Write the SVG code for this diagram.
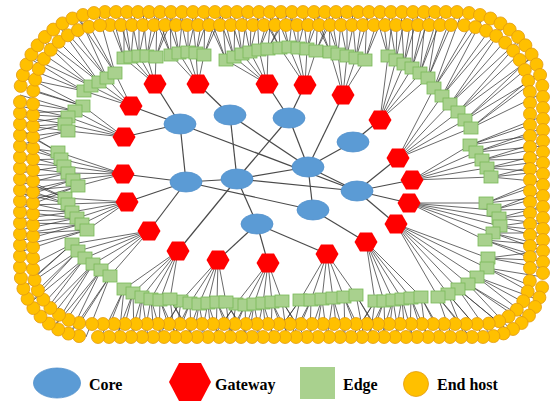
<svg xmlns="http://www.w3.org/2000/svg" width="553" height="403" viewBox="0 0 553 403">
<style>
.fan{fill:none;stroke:#383838;stroke-width:0.75}
.lk{stroke:#4a4a4a;stroke-width:1.2}
.core{fill:#5B9BD5;stroke:#5290CB;stroke-width:0.8}
.gw{fill:#FF0000}
.edge{fill:#A9D18E;stroke:#79B957;stroke-width:0.8}
.host{fill:#FFC000;stroke:#E29B10;stroke-width:0.8}
.lbl{font-family:"Liberation Serif","Times New Roman",serif;font-weight:bold;font-size:16px;fill:#000}
</style>
<defs>
<circle id="H" class="host" r="6.5"/>
<rect id="E" class="edge" x="-7" y="-6" width="14" height="12"/>
<polygon id="G" class="gw" points="-11.5,0 -6,-9.5 6,-9.5 11.5,0 6,9.5 -6,9.5"/>
<ellipse id="C" class="core" rx="16" ry="10"/>
</defs>
<rect width="553" height="403" fill="#fff"/>
<g id="connectors">
<g class="fan">
<path d="M124 137L83 106M124 137L75 111M124 137L68 117M124 137L65 124M124 137L68 131M23 75L83 106L21 86M83 106L33 91M20 95L75 111L20 113M75 111L33 104M20 106L68 117L20 124M68 117L33 115M20 116L65 124L20 135M65 124L33 126M20 125L68 131L20 145M68 131L33 136"/>
<path d="M131 106L84 91M131 106L91 86M131 106L99 82M131 106L107 78M131 106L115 73M22 78L84 91L29 58M84 91L37 72M30 57L91 86L42 40M91 86L46 56M43 39L99 82L59 26M99 82L59 42M60 25L107 78L79 16M107 78L75 32M77 17L115 73L98 12M115 73L90 27"/>
<path d="M155 84L124 58M155 84L131 57M155 84L139 56M155 84L147 56M155 84L156 57M106 12L124 58L124 12M124 58L115 25M117 12L131 57L135 12M131 57L126 25M130 12L139 56L148 12M139 56L139 25M143 12L147 56L161 12M147 56L152 25M157 12L156 57L175 12M156 57L166 25"/>
<path d="M198 84L171 55M198 84L179 53M198 84L188 52M198 84L196 53M198 84L204 55M152 12L171 55L170 12M171 55L161 25M165 12L179 53L183 12M179 53L174 25M179 12L188 52L197 12M188 52L188 25M192 12L196 53L210 12M196 53L201 25M205 12L204 55L223 12M204 55L214 25"/>
<path d="M267 84L226 60M267 84L234 57M267 84L242 54M267 84L250 52M267 84L259 50M267 84L268 49M204 12L226 60L222 12M226 60L213 25M217 12L234 57L235 12M234 57L226 25M229 12L242 54L247 12M242 54L238 25M242 12L250 52L260 12M250 52L251 25M257 12L259 50L275 12M259 50L266 25M271 12L268 49L289 12M268 49L280 25"/>
<path d="M305 85L280 48M305 85L289 47M305 85L298 48M305 85L307 49M305 85L316 51M260 12L280 48L278 12M280 48L269 25M275 12L289 47L293 12M289 47L284 25M289 12L298 48L307 12M298 48L298 25M303 12L307 49L321 12M307 49L312 25M318 12L316 51L336 12M316 51L327 25"/>
<path d="M343 95L330 52M343 95L338 54M343 95L347 56M343 95L356 58M343 95L365 60M311 12L330 52L329 12M330 52L320 25M324 12L338 54L342 12M338 54L333 25M338 12L347 56L356 12M347 56L347 25M352 12L356 58L370 12M356 58L361 25M367 12L365 60L385 12M365 60L376 25"/>
<path d="M380 120L388 56M380 120L396 60M380 120L404 64M380 120L412 68M380 120L420 73M380 120L428 78M375 12L388 56L393 12M388 56L384 25M388 12L396 60L406 12M396 60L397 25M401 12L404 64L419 12M404 64L410 25M413 12L412 68L431 12M412 68L422 25M426 12L420 73L444 12M420 73L435 25M439 12L428 78L457 12M428 78L448 25"/>
<path d="M398 158L434 88M398 158L442 96M398 158L450 104M398 158L458 112M398 158L465 120M398 158L471 128M462 12L434 88L483 16M434 88L470 26M484 16L442 96L503 25M442 96L488 32M504 26L450 104L520 39M450 104L504 42M521 40L458 112L533 57M458 112L517 56M532 56L465 120L540 75M465 120L525 70M539 72L471 128L543 93M471 128L529 85"/>
<path d="M412 180L470 145M412 180L476 152M412 180L482 160M412 180L487 168M412 180L491 177M543 116L470 145L543 134M470 145L530 125M543 128L476 152L543 146M476 152L530 137M543 141L482 160L543 159M482 160L530 150M543 154L487 168L543 172M487 168L530 163M543 164L491 177L543 182M491 177L530 173"/>
<path d="M409 203L486 203M409 203L494 210M409 203L499 218M409 203L500 226M409 203L493 233M409 203L485 240M543 179L486 203L543 197M486 203L530 188M543 191L494 210L543 209M494 210L530 200M543 206L499 218L543 224M499 218L530 215M543 220L500 226L543 238M500 226L530 229M543 233L493 233L543 251M493 233L530 242M543 245L485 240L543 263M485 240L530 254"/>
<path d="M396 224L488 258M396 224L487 268M396 224L477 277M396 224L468 284M396 224L458 289M396 224L448 294M396 224L438 297M543 251L488 258L543 268M488 258L530 260M543 277L487 268L539 297M487 268L529 285M539 300L477 277L528 317M477 277L523 302M526 319L468 284L511 330M468 284L512 314M509 331L458 289L491 336M458 289L498 322M485 337L448 294L465 337M448 294L474 324M470 337L438 297L452 337M438 297L461 324"/>
<path d="M366 242L375 301M366 242L384 301M366 242L393 300M366 242L402 299M366 242L411 298M366 242L421 297M352 337L375 301L370 337M375 301L361 324M367 337L384 301L385 337M384 301L376 324M381 337L393 300L399 337M393 300L390 324M395 337L402 299L413 337M402 299L404 324M410 337L411 298L428 337M411 298L419 324M426 337L421 297L444 337M421 297L435 324"/>
<path d="M327 254L300 300M327 254L311 300M327 254L322 299M327 254L333 298M327 254L344 297M327 254L356 295M274 337L300 300L292 337M300 300L283 324M292 337L311 300L310 337M311 300L301 324M309 337L322 299L327 337M322 299L318 324M327 337L333 298L345 337M333 298L336 324M345 337L344 297L363 337M344 297L354 324M364 337L356 295L382 337M356 295L373 324"/>
<path d="M268 263L236 304M268 263L245 305M268 263L254 304M268 263L263 303M268 263L272 302M268 263L282 301M213 337L236 304L231 337M236 304L222 324M228 337L245 305L246 337M245 305L237 324M242 337L254 304L260 337M254 304L251 324M256 337L263 303L274 337M263 303L265 324M271 337L272 302L289 337M272 302L280 324M287 337L282 301L305 337M282 301L296 324"/>
<path d="M218 260L181 301M218 260L190 303M218 260L199 304M218 260L208 303M218 260L217 302M218 260L226 302M158 337L181 301L176 337M181 301L167 324M173 337L190 303L191 337M190 303L182 324M187 337L199 304L205 337M199 304L196 324M201 337L208 303L219 337M208 303L210 324M216 337L217 302L234 337M217 302L225 324M230 337L226 302L248 337M226 302L239 324"/>
<path d="M178 251L124 289M178 251L133 293M178 251L142 297M178 251L151 299M178 251L160 300M178 251L170 299M101 337L124 289L119 337M124 289L110 324M116 337L133 293L134 337M133 293L125 324M130 337L142 297L148 337M142 297L139 324M144 337L151 299L162 337M151 299L153 324M159 337L160 300L177 337M160 300L168 324M175 337L170 299L193 337M170 299L184 324"/>
<path d="M149 231L72 244M149 231L78 251M149 231L85 258M149 231L93 264M149 231L101 270M149 231L110 276M20 271L72 244L23 288M72 244L34 277M23 288L78 251L30 303M78 251L38 290M30 303L85 258L41 317M85 258L45 302M41 317L93 264L54 327M93 264L55 312M54 327L101 270L70 334M101 270L67 319M70 334L110 276L86 337M110 276L80 323"/>
<path d="M127 202L65 198M127 202L68 204M127 202L72 212M127 202L77 218M127 202L82 224M127 202L87 230M20 176L65 198L20 194M65 198L33 185M20 187L68 204L20 205M68 204L33 196M20 201L72 212L20 219M72 212L33 210M20 212L77 218L20 230M77 218L33 221M20 223L82 224L20 241M82 224L33 232M20 234L87 230L20 252M87 230L33 243"/>
<path d="M123 174L58 152M123 174L61 159M123 174L64 166M123 174L68 173M123 174L73 180M123 174L78 186M20 129L58 152L20 147M58 152L33 138M20 142L61 159L20 160M61 159L33 151M20 155L64 166L20 173M64 166L33 164M20 167L68 173L20 185M68 173L33 176M20 180L73 180L20 198M73 180L33 189M20 191L78 186L20 209M78 186L33 200"/>
</g>
<g class="lk">
<line x1="180" y1="124" x2="155" y2="84"/>
<line x1="180" y1="124" x2="131" y2="106"/>
<line x1="180" y1="124" x2="124" y2="137"/>
<line x1="230" y1="115" x2="198" y2="84"/>
<line x1="289" y1="118" x2="267" y2="84"/>
<line x1="289" y1="118" x2="305" y2="85"/>
<line x1="308" y1="167" x2="343" y2="95"/>
<line x1="353" y1="142" x2="380" y2="120"/>
<line x1="357" y1="191" x2="398" y2="158"/>
<line x1="357" y1="191" x2="412" y2="180"/>
<line x1="357" y1="191" x2="409" y2="203"/>
<line x1="357" y1="191" x2="396" y2="224"/>
<line x1="313" y1="210" x2="366" y2="242"/>
<line x1="257" y1="224" x2="327" y2="254"/>
<line x1="257" y1="224" x2="268" y2="263"/>
<line x1="257" y1="224" x2="218" y2="260"/>
<line x1="237" y1="179" x2="178" y2="251"/>
<line x1="186" y1="182" x2="149" y2="231"/>
<line x1="186" y1="182" x2="127" y2="202"/>
<line x1="186" y1="182" x2="123" y2="174"/>
<line x1="180" y1="124" x2="186" y2="182"/>
<line x1="180" y1="124" x2="357" y2="191"/>
<line x1="230" y1="115" x2="237" y2="179"/>
<line x1="230" y1="115" x2="308" y2="167"/>
<line x1="289" y1="118" x2="237" y2="179"/>
<line x1="289" y1="118" x2="308" y2="167"/>
<line x1="353" y1="142" x2="308" y2="167"/>
<line x1="186" y1="182" x2="237" y2="179"/>
<line x1="186" y1="182" x2="313" y2="210"/>
<line x1="237" y1="179" x2="308" y2="167"/>
<line x1="237" y1="179" x2="357" y2="191"/>
<line x1="237" y1="179" x2="257" y2="224"/>
<line x1="308" y1="167" x2="357" y2="191"/>
<line x1="308" y1="167" x2="313" y2="210"/>
</g>
</g>
<g id="hosts">
<g id="h1"><use href="#H" x="105" y="12"/></g><g id="h2"><use href="#H" x="116" y="12"/></g><g id="h3"><use href="#H" x="127" y="12"/></g><g id="h4"><use href="#H" x="138" y="12"/></g><g id="h5"><use href="#H" x="149" y="12"/></g><g id="h6"><use href="#H" x="160" y="12"/></g><g id="h7"><use href="#H" x="171" y="12"/></g><g id="h8"><use href="#H" x="182" y="12"/></g><g id="h9"><use href="#H" x="193" y="12"/></g><g id="h10"><use href="#H" x="204" y="12"/></g>
<g id="h11"><use href="#H" x="215" y="12"/></g><g id="h12"><use href="#H" x="226" y="12"/></g><g id="h13"><use href="#H" x="237" y="12"/></g><g id="h14"><use href="#H" x="248" y="12"/></g><g id="h15"><use href="#H" x="259" y="12"/></g><g id="h16"><use href="#H" x="270" y="12"/></g><g id="h17"><use href="#H" x="281" y="12"/></g><g id="h18"><use href="#H" x="292" y="12"/></g><g id="h19"><use href="#H" x="303" y="12"/></g><g id="h20"><use href="#H" x="314" y="12"/></g>
<g id="h21"><use href="#H" x="325" y="12"/></g><g id="h22"><use href="#H" x="336" y="12"/></g><g id="h23"><use href="#H" x="347" y="12"/></g><g id="h24"><use href="#H" x="358" y="12"/></g><g id="h25"><use href="#H" x="369" y="12"/></g><g id="h26"><use href="#H" x="380" y="12"/></g><g id="h27"><use href="#H" x="391" y="12"/></g><g id="h28"><use href="#H" x="402" y="12"/></g><g id="h29"><use href="#H" x="413" y="12"/></g><g id="h30"><use href="#H" x="424" y="12"/></g>
<g id="h31"><use href="#H" x="435" y="12"/></g><g id="h32"><use href="#H" x="446" y="12"/></g><g id="h33"><use href="#H" x="457" y="12"/></g><g id="h34"><use href="#H" x="469" y="13"/></g><g id="h35"><use href="#H" x="480" y="15"/></g><g id="h36"><use href="#H" x="490.5" y="18.5"/></g><g id="h37"><use href="#H" x="500.5" y="23.4"/></g><g id="h38"><use href="#H" x="509.7" y="29.6"/></g><g id="h39"><use href="#H" x="518.1" y="36.9"/></g><g id="h40"><use href="#H" x="525.4" y="45.3"/></g>
<g id="h41"><use href="#H" x="531.6" y="54.5"/></g><g id="h42"><use href="#H" x="536.5" y="64.5"/></g><g id="h43"><use href="#H" x="540.1" y="75"/></g><g id="h44"><use href="#H" x="542.3" y="85.9"/></g><g id="h45"><use href="#H" x="543" y="97"/></g><g id="h46"><use href="#H" x="543" y="108"/></g><g id="h47"><use href="#H" x="543" y="119"/></g><g id="h48"><use href="#H" x="543" y="130"/></g><g id="h49"><use href="#H" x="543" y="141"/></g><g id="h50"><use href="#H" x="543" y="152"/></g>
<g id="h51"><use href="#H" x="543" y="163"/></g><g id="h52"><use href="#H" x="543" y="174"/></g><g id="h53"><use href="#H" x="543" y="185"/></g><g id="h54"><use href="#H" x="543" y="196"/></g><g id="h55"><use href="#H" x="543" y="207"/></g><g id="h56"><use href="#H" x="543" y="218"/></g><g id="h57"><use href="#H" x="543" y="229"/></g><g id="h58"><use href="#H" x="543" y="240"/></g><g id="h59"><use href="#H" x="543" y="251"/></g><g id="h60"><use href="#H" x="543" y="262"/></g>
<g id="h61"><use href="#H" x="543" y="273"/></g><g id="h62"><use href="#H" x="542.1" y="287.4"/></g><g id="h63"><use href="#H" x="539.4" y="297.5"/></g><g id="h64"><use href="#H" x="535" y="307"/></g><g id="h65"><use href="#H" x="529" y="315.6"/></g><g id="h66"><use href="#H" x="521.6" y="323"/></g><g id="h67"><use href="#H" x="513" y="329"/></g><g id="h68"><use href="#H" x="503.5" y="333.4"/></g><g id="h69"><use href="#H" x="493.4" y="336.1"/></g><g id="h70"><use href="#H" x="483" y="337"/></g>
<g id="h71"><use href="#H" x="472" y="337"/></g><g id="h72"><use href="#H" x="461" y="337"/></g><g id="h73"><use href="#H" x="450" y="337"/></g><g id="h74"><use href="#H" x="439" y="337"/></g><g id="h75"><use href="#H" x="428" y="337"/></g><g id="h76"><use href="#H" x="417" y="337"/></g><g id="h77"><use href="#H" x="406" y="337"/></g><g id="h78"><use href="#H" x="395" y="337"/></g><g id="h79"><use href="#H" x="384" y="337"/></g><g id="h80"><use href="#H" x="373" y="337"/></g>
<g id="h81"><use href="#H" x="362" y="337"/></g><g id="h82"><use href="#H" x="351" y="337"/></g><g id="h83"><use href="#H" x="340" y="337"/></g><g id="h84"><use href="#H" x="329" y="337"/></g><g id="h85"><use href="#H" x="318" y="337"/></g><g id="h86"><use href="#H" x="307" y="337"/></g><g id="h87"><use href="#H" x="296" y="337"/></g><g id="h88"><use href="#H" x="285" y="337"/></g><g id="h89"><use href="#H" x="274" y="337"/></g><g id="h90"><use href="#H" x="263" y="337"/></g>
<g id="h91"><use href="#H" x="252" y="337"/></g><g id="h92"><use href="#H" x="241" y="337"/></g><g id="h93"><use href="#H" x="230" y="337"/></g><g id="h94"><use href="#H" x="219" y="337"/></g><g id="h95"><use href="#H" x="208" y="337"/></g><g id="h96"><use href="#H" x="197" y="337"/></g><g id="h97"><use href="#H" x="186" y="337"/></g><g id="h98"><use href="#H" x="175" y="337"/></g><g id="h99"><use href="#H" x="164" y="337"/></g><g id="h100"><use href="#H" x="153" y="337"/></g>
<g id="h101"><use href="#H" x="142" y="337"/></g><g id="h102"><use href="#H" x="131" y="337"/></g><g id="h103"><use href="#H" x="120" y="337"/></g><g id="h104"><use href="#H" x="109" y="337"/></g><g id="h105"><use href="#H" x="98" y="337"/></g><g id="h106"><use href="#H" x="79.1" y="336.1"/></g><g id="h107"><use href="#H" x="68.4" y="333.6"/></g><g id="h108"><use href="#H" x="58.2" y="329.4"/></g><g id="h109"><use href="#H" x="48.9" y="323.6"/></g><g id="h110"><use href="#H" x="40.5" y="316.5"/></g>
<g id="h111"><use href="#H" x="33.4" y="308.1"/></g><g id="h112"><use href="#H" x="27.6" y="298.8"/></g><g id="h113"><use href="#H" x="23.4" y="288.6"/></g><g id="h114"><use href="#H" x="20.9" y="278"/></g><g id="h115"><use href="#H" x="20" y="267"/></g><g id="h116"><use href="#H" x="20" y="256"/></g><g id="h117"><use href="#H" x="20" y="245"/></g><g id="h118"><use href="#H" x="20" y="234"/></g><g id="h119"><use href="#H" x="20" y="223"/></g><g id="h120"><use href="#H" x="20" y="212"/></g>
<g id="h121"><use href="#H" x="20" y="201"/></g><g id="h122"><use href="#H" x="20" y="190"/></g><g id="h123"><use href="#H" x="20" y="179"/></g><g id="h124"><use href="#H" x="20" y="168"/></g><g id="h125"><use href="#H" x="20" y="157"/></g><g id="h126"><use href="#H" x="20" y="146"/></g><g id="h127"><use href="#H" x="20" y="135"/></g><g id="h128"><use href="#H" x="20" y="124"/></g><g id="h129"><use href="#H" x="20" y="113"/></g><g id="h130"><use href="#H" x="20" y="102"/></g>
<g id="h131"><use href="#H" x="20.7" y="85.9"/></g><g id="h132"><use href="#H" x="22.9" y="75"/></g><g id="h133"><use href="#H" x="26.5" y="64.5"/></g><g id="h134"><use href="#H" x="31.4" y="54.5"/></g><g id="h135"><use href="#H" x="37.6" y="45.3"/></g><g id="h136"><use href="#H" x="44.9" y="36.9"/></g><g id="h137"><use href="#H" x="53.3" y="29.6"/></g><g id="h138"><use href="#H" x="62.5" y="23.4"/></g><g id="h139"><use href="#H" x="72.5" y="18.5"/></g><g id="h140"><use href="#H" x="83" y="15"/></g>
<g id="h141"><use href="#H" x="93.9" y="13"/></g>
<g id="h142"><use href="#H" x="110" y="25"/></g><g id="h143"><use href="#H" x="121" y="25"/></g><g id="h144"><use href="#H" x="132" y="25"/></g><g id="h145"><use href="#H" x="143" y="25"/></g><g id="h146"><use href="#H" x="154" y="25"/></g><g id="h147"><use href="#H" x="165" y="25"/></g><g id="h148"><use href="#H" x="176" y="25"/></g><g id="h149"><use href="#H" x="187" y="25"/></g><g id="h150"><use href="#H" x="198" y="25"/></g>
<g id="h151"><use href="#H" x="209" y="25"/></g><g id="h152"><use href="#H" x="220" y="25"/></g><g id="h153"><use href="#H" x="231" y="25"/></g><g id="h154"><use href="#H" x="242" y="25"/></g><g id="h155"><use href="#H" x="253" y="25"/></g><g id="h156"><use href="#H" x="264" y="25"/></g><g id="h157"><use href="#H" x="275" y="25"/></g><g id="h158"><use href="#H" x="286" y="25"/></g><g id="h159"><use href="#H" x="297" y="25"/></g><g id="h160"><use href="#H" x="308" y="25"/></g>
<g id="h161"><use href="#H" x="319" y="25"/></g><g id="h162"><use href="#H" x="330" y="25"/></g><g id="h163"><use href="#H" x="341" y="25"/></g><g id="h164"><use href="#H" x="352" y="25"/></g><g id="h165"><use href="#H" x="363" y="25"/></g><g id="h166"><use href="#H" x="374" y="25"/></g><g id="h167"><use href="#H" x="385" y="25"/></g><g id="h168"><use href="#H" x="396" y="25"/></g><g id="h169"><use href="#H" x="407" y="25"/></g><g id="h170"><use href="#H" x="418" y="25"/></g>
<g id="h171"><use href="#H" x="429" y="25"/></g><g id="h172"><use href="#H" x="440" y="25"/></g><g id="h173"><use href="#H" x="451" y="25"/></g><g id="h174"><use href="#H" x="464.3" y="25.3"/></g><g id="h175"><use href="#H" x="475.4" y="27.1"/></g><g id="h176"><use href="#H" x="486.1" y="30.7"/></g><g id="h177"><use href="#H" x="496.2" y="35.9"/></g><g id="h178"><use href="#H" x="505.2" y="42.7"/></g><g id="h179"><use href="#H" x="513.2" y="50.7"/></g><g id="h180"><use href="#H" x="519.7" y="59.9"/></g>
<g id="h181"><use href="#H" x="524.8" y="70"/></g><g id="h182"><use href="#H" x="528.2" y="80.8"/></g><g id="h183"><use href="#H" x="529.8" y="92"/></g><g id="h184"><use href="#H" x="530" y="103"/></g><g id="h185"><use href="#H" x="530" y="114"/></g><g id="h186"><use href="#H" x="530" y="125"/></g><g id="h187"><use href="#H" x="530" y="136"/></g><g id="h188"><use href="#H" x="530" y="147"/></g><g id="h189"><use href="#H" x="530" y="158"/></g><g id="h190"><use href="#H" x="530" y="169"/></g>
<g id="h191"><use href="#H" x="530" y="180"/></g><g id="h192"><use href="#H" x="530" y="191"/></g><g id="h193"><use href="#H" x="530" y="202"/></g><g id="h194"><use href="#H" x="530" y="213"/></g><g id="h195"><use href="#H" x="530" y="224"/></g><g id="h196"><use href="#H" x="530" y="235"/></g><g id="h197"><use href="#H" x="530" y="246"/></g><g id="h198"><use href="#H" x="530" y="257"/></g><g id="h199"><use href="#H" x="530" y="268"/></g><g id="h200"><use href="#H" x="529.8" y="281.1"/></g>
<g id="h201"><use href="#H" x="527.7" y="291.5"/></g><g id="h202"><use href="#H" x="523.3" y="301.2"/></g><g id="h203"><use href="#H" x="516.8" y="309.7"/></g><g id="h204"><use href="#H" x="508.6" y="316.4"/></g><g id="h205"><use href="#H" x="499.1" y="321.2"/></g><g id="h206"><use href="#H" x="488.7" y="323.6"/></g><g id="h207"><use href="#H" x="477" y="324"/></g><g id="h208"><use href="#H" x="466" y="324"/></g><g id="h209"><use href="#H" x="455" y="324"/></g><g id="h210"><use href="#H" x="444" y="324"/></g>
<g id="h211"><use href="#H" x="433" y="324"/></g><g id="h212"><use href="#H" x="422" y="324"/></g><g id="h213"><use href="#H" x="411" y="324"/></g><g id="h214"><use href="#H" x="400" y="324"/></g><g id="h215"><use href="#H" x="389" y="324"/></g><g id="h216"><use href="#H" x="378" y="324"/></g><g id="h217"><use href="#H" x="367" y="324"/></g><g id="h218"><use href="#H" x="356" y="324"/></g><g id="h219"><use href="#H" x="345" y="324"/></g><g id="h220"><use href="#H" x="334" y="324"/></g>
<g id="h221"><use href="#H" x="323" y="324"/></g><g id="h222"><use href="#H" x="312" y="324"/></g><g id="h223"><use href="#H" x="301" y="324"/></g><g id="h224"><use href="#H" x="290" y="324"/></g><g id="h225"><use href="#H" x="279" y="324"/></g><g id="h226"><use href="#H" x="268" y="324"/></g><g id="h227"><use href="#H" x="257" y="324"/></g><g id="h228"><use href="#H" x="246" y="324"/></g><g id="h229"><use href="#H" x="235" y="324"/></g><g id="h230"><use href="#H" x="224" y="324"/></g>
<g id="h231"><use href="#H" x="213" y="324"/></g><g id="h232"><use href="#H" x="202" y="324"/></g><g id="h233"><use href="#H" x="191" y="324"/></g><g id="h234"><use href="#H" x="180" y="324"/></g><g id="h235"><use href="#H" x="169" y="324"/></g><g id="h236"><use href="#H" x="158" y="324"/></g><g id="h237"><use href="#H" x="147" y="324"/></g><g id="h238"><use href="#H" x="136" y="324"/></g><g id="h239"><use href="#H" x="125" y="324"/></g><g id="h240"><use href="#H" x="114" y="324"/></g>
<g id="h241"><use href="#H" x="103" y="324"/></g><g id="h242"><use href="#H" x="92" y="324"/></g><g id="h243"><use href="#H" x="79.1" y="323"/></g><g id="h244"><use href="#H" x="68.6" y="319.9"/></g><g id="h245"><use href="#H" x="59" y="314.8"/></g><g id="h246"><use href="#H" x="50.4" y="308"/></g><g id="h247"><use href="#H" x="43.3" y="299.7"/></g><g id="h248"><use href="#H" x="37.9" y="290.2"/></g><g id="h249"><use href="#H" x="34.5" y="279.8"/></g><g id="h250"><use href="#H" x="33" y="269"/></g>
<g id="h251"><use href="#H" x="33" y="258"/></g><g id="h252"><use href="#H" x="33" y="247"/></g><g id="h253"><use href="#H" x="33" y="236"/></g><g id="h254"><use href="#H" x="33" y="225"/></g><g id="h255"><use href="#H" x="33" y="214"/></g><g id="h256"><use href="#H" x="33" y="203"/></g><g id="h257"><use href="#H" x="33" y="192"/></g><g id="h258"><use href="#H" x="33" y="181"/></g><g id="h259"><use href="#H" x="33" y="170"/></g><g id="h260"><use href="#H" x="33" y="159"/></g>
<g id="h261"><use href="#H" x="33" y="148"/></g><g id="h262"><use href="#H" x="33" y="137"/></g><g id="h263"><use href="#H" x="33" y="126"/></g><g id="h264"><use href="#H" x="33" y="115"/></g><g id="h265"><use href="#H" x="33" y="104"/></g><g id="h266"><use href="#H" x="33.3" y="90.7"/></g><g id="h267"><use href="#H" x="35.1" y="79.6"/></g><g id="h268"><use href="#H" x="38.7" y="68.9"/></g><g id="h269"><use href="#H" x="43.9" y="58.8"/></g><g id="h270"><use href="#H" x="50.7" y="49.8"/></g>
<g id="h271"><use href="#H" x="58.7" y="41.8"/></g><g id="h272"><use href="#H" x="67.9" y="35.3"/></g><g id="h273"><use href="#H" x="78" y="30.2"/></g><g id="h274"><use href="#H" x="88.8" y="26.8"/></g><g id="h275"><use href="#H" x="100" y="25.2"/></g>
</g>
<g id="edges">
<g id="e1"><use href="#E" x="83" y="106"/></g><g id="e2"><use href="#E" x="75" y="111"/></g><g id="e3"><use href="#E" x="68" y="117"/></g><g id="e4"><use href="#E" x="65" y="124"/></g><g id="e5"><use href="#E" x="68" y="131"/></g>
<g id="e6"><use href="#E" x="84" y="91"/></g><g id="e7"><use href="#E" x="91" y="86"/></g><g id="e8"><use href="#E" x="99" y="82"/></g><g id="e9"><use href="#E" x="107" y="78"/></g><g id="e10"><use href="#E" x="115" y="73"/></g>
<g id="e11"><use href="#E" x="124" y="58"/></g><g id="e12"><use href="#E" x="131" y="57"/></g><g id="e13"><use href="#E" x="139" y="56"/></g><g id="e14"><use href="#E" x="147" y="56"/></g><g id="e15"><use href="#E" x="156" y="57"/></g>
<g id="e16"><use href="#E" x="171" y="55"/></g><g id="e17"><use href="#E" x="179" y="53"/></g><g id="e18"><use href="#E" x="188" y="52"/></g><g id="e19"><use href="#E" x="196" y="53"/></g><g id="e20"><use href="#E" x="204" y="55"/></g>
<g id="e21"><use href="#E" x="226" y="60"/></g><g id="e22"><use href="#E" x="234" y="57"/></g><g id="e23"><use href="#E" x="242" y="54"/></g><g id="e24"><use href="#E" x="250" y="52"/></g><g id="e25"><use href="#E" x="259" y="50"/></g><g id="e26"><use href="#E" x="268" y="49"/></g>
<g id="e27"><use href="#E" x="280" y="48"/></g><g id="e28"><use href="#E" x="289" y="47"/></g><g id="e29"><use href="#E" x="298" y="48"/></g><g id="e30"><use href="#E" x="307" y="49"/></g><g id="e31"><use href="#E" x="316" y="51"/></g>
<g id="e32"><use href="#E" x="330" y="52"/></g><g id="e33"><use href="#E" x="338" y="54"/></g><g id="e34"><use href="#E" x="347" y="56"/></g><g id="e35"><use href="#E" x="356" y="58"/></g><g id="e36"><use href="#E" x="365" y="60"/></g>
<g id="e37"><use href="#E" x="388" y="56"/></g><g id="e38"><use href="#E" x="396" y="60"/></g><g id="e39"><use href="#E" x="404" y="64"/></g><g id="e40"><use href="#E" x="412" y="68"/></g><g id="e41"><use href="#E" x="420" y="73"/></g><g id="e42"><use href="#E" x="428" y="78"/></g>
<g id="e43"><use href="#E" x="434" y="88"/></g><g id="e44"><use href="#E" x="442" y="96"/></g><g id="e45"><use href="#E" x="450" y="104"/></g><g id="e46"><use href="#E" x="458" y="112"/></g><g id="e47"><use href="#E" x="465" y="120"/></g><g id="e48"><use href="#E" x="471" y="128"/></g>
<g id="e49"><use href="#E" x="470" y="145"/></g><g id="e50"><use href="#E" x="476" y="152"/></g><g id="e51"><use href="#E" x="482" y="160"/></g><g id="e52"><use href="#E" x="487" y="168"/></g><g id="e53"><use href="#E" x="491" y="177"/></g>
<g id="e54"><use href="#E" x="486" y="203"/></g><g id="e55"><use href="#E" x="494" y="210"/></g><g id="e56"><use href="#E" x="499" y="218"/></g><g id="e57"><use href="#E" x="500" y="226"/></g><g id="e58"><use href="#E" x="493" y="233"/></g><g id="e59"><use href="#E" x="485" y="240"/></g>
<g id="e60"><use href="#E" x="488" y="258"/></g><g id="e61"><use href="#E" x="487" y="268"/></g><g id="e62"><use href="#E" x="477" y="277"/></g><g id="e63"><use href="#E" x="468" y="284"/></g><g id="e64"><use href="#E" x="458" y="289"/></g><g id="e65"><use href="#E" x="448" y="294"/></g><g id="e66"><use href="#E" x="438" y="297"/></g>
<g id="e67"><use href="#E" x="375" y="301"/></g><g id="e68"><use href="#E" x="384" y="301"/></g><g id="e69"><use href="#E" x="393" y="300"/></g><g id="e70"><use href="#E" x="402" y="299"/></g><g id="e71"><use href="#E" x="411" y="298"/></g><g id="e72"><use href="#E" x="421" y="297"/></g>
<g id="e73"><use href="#E" x="300" y="300"/></g><g id="e74"><use href="#E" x="311" y="300"/></g><g id="e75"><use href="#E" x="322" y="299"/></g><g id="e76"><use href="#E" x="333" y="298"/></g><g id="e77"><use href="#E" x="344" y="297"/></g><g id="e78"><use href="#E" x="356" y="295"/></g>
<g id="e79"><use href="#E" x="236" y="304"/></g><g id="e80"><use href="#E" x="245" y="305"/></g><g id="e81"><use href="#E" x="254" y="304"/></g><g id="e82"><use href="#E" x="263" y="303"/></g><g id="e83"><use href="#E" x="272" y="302"/></g><g id="e84"><use href="#E" x="282" y="301"/></g>
<g id="e85"><use href="#E" x="181" y="301"/></g><g id="e86"><use href="#E" x="190" y="303"/></g><g id="e87"><use href="#E" x="199" y="304"/></g><g id="e88"><use href="#E" x="208" y="303"/></g><g id="e89"><use href="#E" x="217" y="302"/></g><g id="e90"><use href="#E" x="226" y="302"/></g>
<g id="e91"><use href="#E" x="124" y="289"/></g><g id="e92"><use href="#E" x="133" y="293"/></g><g id="e93"><use href="#E" x="142" y="297"/></g><g id="e94"><use href="#E" x="151" y="299"/></g><g id="e95"><use href="#E" x="160" y="300"/></g><g id="e96"><use href="#E" x="170" y="299"/></g>
<g id="e97"><use href="#E" x="72" y="244"/></g><g id="e98"><use href="#E" x="78" y="251"/></g><g id="e99"><use href="#E" x="85" y="258"/></g><g id="e100"><use href="#E" x="93" y="264"/></g><g id="e101"><use href="#E" x="101" y="270"/></g><g id="e102"><use href="#E" x="110" y="276"/></g>
<g id="e103"><use href="#E" x="65" y="198"/></g><g id="e104"><use href="#E" x="68" y="204"/></g><g id="e105"><use href="#E" x="72" y="212"/></g><g id="e106"><use href="#E" x="77" y="218"/></g><g id="e107"><use href="#E" x="82" y="224"/></g><g id="e108"><use href="#E" x="87" y="230"/></g>
<g id="e109"><use href="#E" x="58" y="152"/></g><g id="e110"><use href="#E" x="61" y="159"/></g><g id="e111"><use href="#E" x="64" y="166"/></g><g id="e112"><use href="#E" x="68" y="173"/></g><g id="e113"><use href="#E" x="73" y="180"/></g><g id="e114"><use href="#E" x="78" y="186"/></g>
</g>
<g id="gateways">
<g id="g1"><use href="#G" x="155" y="84"/></g><g id="g2"><use href="#G" x="198" y="84"/></g><g id="g3"><use href="#G" x="267" y="84"/></g><g id="g4"><use href="#G" x="305" y="85"/></g><g id="g5"><use href="#G" x="343" y="95"/></g>
<g id="g6"><use href="#G" x="380" y="120"/></g><g id="g7"><use href="#G" x="398" y="158"/></g><g id="g8"><use href="#G" x="412" y="180"/></g><g id="g9"><use href="#G" x="409" y="203"/></g><g id="g10"><use href="#G" x="396" y="224"/></g>
<g id="g11"><use href="#G" x="366" y="242"/></g><g id="g12"><use href="#G" x="327" y="254"/></g><g id="g13"><use href="#G" x="268" y="263"/></g><g id="g14"><use href="#G" x="218" y="260"/></g><g id="g15"><use href="#G" x="178" y="251"/></g>
<g id="g16"><use href="#G" x="149" y="231"/></g><g id="g17"><use href="#G" x="127" y="202"/></g><g id="g18"><use href="#G" x="123" y="174"/></g><g id="g19"><use href="#G" x="124" y="137"/></g><g id="g20"><use href="#G" x="131" y="106"/></g>
</g>
<g id="cores">
<g id="c1"><use href="#C" x="180" y="124"/></g><g id="c2"><use href="#C" x="230" y="115"/></g><g id="c3"><use href="#C" x="289" y="118"/></g><g id="c4"><use href="#C" x="353" y="142"/></g><g id="c5"><use href="#C" x="186" y="182"/></g>
<g id="c6"><use href="#C" x="237" y="179"/></g><g id="c7"><use href="#C" x="308" y="167"/></g><g id="c8"><use href="#C" x="357" y="191"/></g><g id="c9"><use href="#C" x="313" y="210"/></g><g id="c10"><use href="#C" x="257" y="224"/></g>
</g>
<g id="legend">
<ellipse class="core" cx="57" cy="383" rx="23.5" ry="15"/>
<text class="lbl" x="89" y="390">Core</text>
<polygon class="gw" points="169,382 179,363 201,363 211,382 201,401 179,401"/>
<text class="lbl" x="215" y="390">Gateway</text>
<rect x="300" y="367" width="35" height="32" fill="#A9D18E"/>
<text class="lbl" x="343" y="390">Edge</text>
<circle class="host" cx="416" cy="384" r="12.5"/>
<text class="lbl" x="437" y="390">End host</text>
</g>
</svg>
